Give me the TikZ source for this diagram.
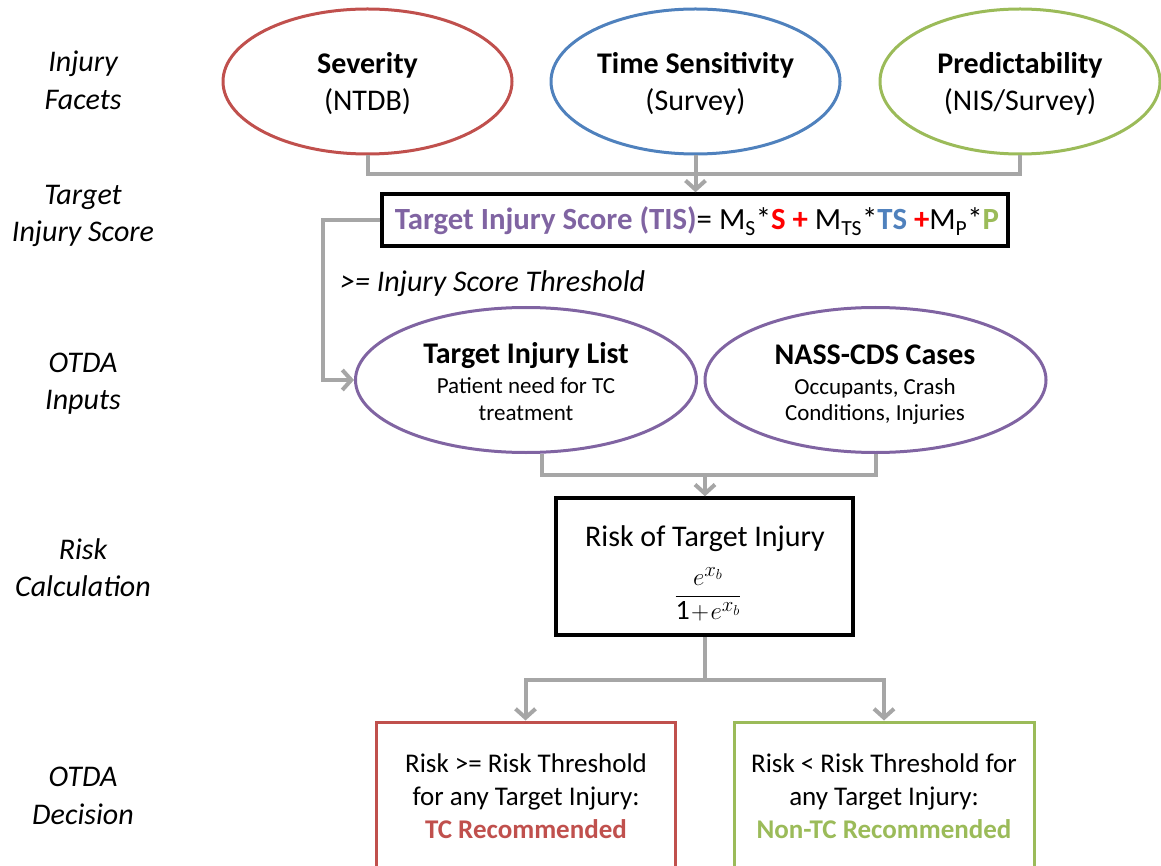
\documentclass[tikz,border=0pt]{standalone}
\usepackage{fontspec}
\setmainfont{Carlito}
\usetikzlibrary{shapes.geometric,arrows.meta}
\definecolor{cred}{RGB}{192,80,77}
\definecolor{cblue}{RGB}{79,129,189}
\definecolor{cgreen}{RGB}{155,187,89}
\definecolor{cpurple}{RGB}{128,100,162}
\definecolor{cgray}{RGB}{166,166,166}
\definecolor{bred}{RGB}{255,0,0}
\newcommand\fsz[2]{\fontsize{#1}{#2}\selectfont}
\tikzset{
  facet/.style={draw=#1, line width=3pt, ellipse, minimum width=289pt, minimum height=145pt, inner sep=0pt},
  inputell/.style={draw=cpurple, line width=3pt, ellipse, minimum width=341pt, minimum height=145pt, inner sep=0pt},
  blackbox/.style={draw=black, line width=3.5pt, rectangle, inner sep=0pt},
  decbox/.style={draw=#1, line width=3pt, rectangle, inner sep=0pt, minimum width=299pt, minimum height=200pt},
  conn/.style={draw=cgray, line width=4pt},
  arr/.style={conn, -{Straight Barb[length=9pt,width=20pt]}},
  side/.style={anchor=base, font=\fsz{30}{36}\itshape, inner sep=0pt},
  big/.style={anchor=base, font=\fsz{30}{36}, inner sep=0pt},
  bigb/.style={anchor=base, font=\fsz{30}{36}\bfseries, inner sep=0pt},
  small/.style={anchor=base, font=\fsz{23}{28}, inner sep=0pt},
  dtext/.style={anchor=base, font=\fsz{27}{33}, inner sep=0pt},
  dtextb/.style={anchor=base, font=\fsz{27}{33}\bfseries, inner sep=0pt},
}
\begin{document}
\begin{tikzpicture}[x=1pt,y=-1pt]
\useasboundingbox (0,0) rectangle (1161,866);

% left labels
\node[side] (l1a) at (83,72) {Injury};
\node[side] (l1b) at (83,110) {Facets};
\node[side] (l2a) at (83,205) {Target};
\node[side] (l2b) at (83,242) {Injury Score};
\node[side] (l3a) at (83,372) {OTDA};
\node[side] (l3b) at (83,409) {Inputs};
\node[side] (l4a) at (83,559) {Risk};
\node[side] (l4b) at (83,596) {Calculation};
\node[side] (l5a) at (83,786) {OTDA};
\node[side] (l5b) at (83,824) {Decision};

% facets
\node[facet=cred] (sev) at (367.5,81.5) {};
\node[facet=cblue] (ts) at (695.5,81.5) {};
\node[facet=cgreen, minimum width=280pt] (pred) at (1020,81.5) {};
\node[bigb] (sevt) at (367.5,74) {Severity};
\node[big] (sevs) at (367.5,111) {(NTDB)};
\node[bigb] (tst) at (695.5,74) {Time Sensitivity};
\node[big] (tss) at (695.5,111) {(Survey)};
\node[bigb] (predt) at (1020,74) {Predictability};
\node[big] (preds) at (1020,111) {(NIS/Survey)};

% TIS box
\node[blackbox, minimum width=626pt, minimum height=52pt] (tis) at (695,220) {};
\node[big, font=\fsz{30.8}{36}] (tist) at (697,230) {{\bfseries\color{cpurple}Target Injury Score (TIS)}= M\textsubscript{S}*{\bfseries\color{bred}S + }M\textsubscript{TS}*{\bfseries\color{cblue}TS }{\bfseries\color{bred}+}M\textsubscript{P}*{\bfseries\color{cgreen}P}};

\node[anchor=base west, font=\fsz{30}{36}\itshape, inner sep=0pt] (thr) at (340,292) {>= Injury Score Threshold};

% inputs
\node[inputell] (til) at (526,380) {};
\node[inputell] (nass) at (875.5,380) {};
\node[bigb] (tilt) at (526,363) {Target Injury List};
\node[small] (tils1) at (526,393) {Patient need for TC};
\node[small] (tils2) at (526,420) {treatment};
\node[bigb] (nasst) at (875,364) {NASS-CDS Cases};
\node[small] (nasss1) at (875,394) {Occupants, Crash};
\node[small] (nasss2) at (875,420) {Conditions, Injuries};

% risk box
\node[blackbox, minimum width=297pt, minimum height=137pt] (risk) at (704.5,566.5) {};
\node[big] (riskt) at (705,546) {Risk of Target Injury};
\node[inner sep=0pt, font=\fsz{28}{32}] (frac) at (708,594) {$\displaystyle\frac{e^{x_b}}{\mbox{1}\!+\!e^{x_b}}$};

% decision boxes
\node[decbox=cred] (tc) at (525.5,822) {};
\node[decbox=cgreen, minimum width=300pt] (ntc) at (884,822) {};
\node[dtext] (tc1) at (526,772) {Risk >= Risk Threshold};
\node[dtext] (tc2) at (526,805) {for any Target Injury:};
\node[dtextb, text=cred] (tc3) at (526,838) {TC Recommended};
\node[dtext] (ntc1) at (884,772) {Risk < Risk Threshold for};
\node[dtext] (ntc2) at (884,805) {any Target Injury:};
\node[dtextb, text=cgreen] (ntc3) at (884,838) {Non-TC Recommended};

% connectors
\coordinate (j1) at (695.5,174);
\draw[conn] (sev.south) |- (j1);
\draw[conn] (pred.south) |- (j1);
\draw[arr] (ts.south) -- (tis.north -| ts.south);
\draw[arr] (tis.west) -- ++(-57,0) |- (til.west);
\coordinate (j2) at (705,475);
\draw[conn] ([xshift=16pt]til.south) |- (j2);
\draw[conn] (nass.south) |- (j2);
\draw[arr] (j2) -- (j2 |- risk.north);
\coordinate (j3) at (705,680);
\draw[conn] (j3 |- risk.south) -- (j3);
\draw[arr] (j3) -| (tc.north);
\draw[arr] (j3) -| (ntc.north);
\end{tikzpicture}
\end{document}
